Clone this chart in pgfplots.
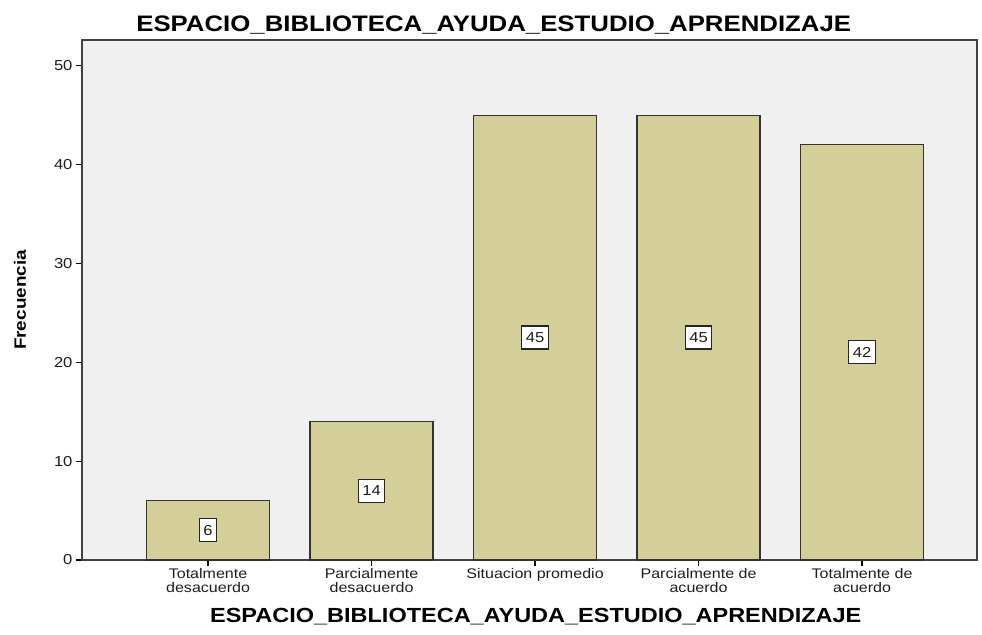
\documentclass[border=0pt]{standalone}
\usepackage{pgfplots}
\pgfplotsset{compat=1.18}
\usepackage{fontspec}
\setmainfont{Liberation Sans}[FakeStretch=1.15]
\definecolor{barfill}{RGB}{212,207,152}
\definecolor{bg}{RGB}{240,240,240}
\definecolor{txt}{RGB}{30,30,30}
\begin{document}
\begin{tikzpicture}
\path[use as bounding box] (-82bp,-75bp) rectangle (900bp,560bp);
\begin{axis}[
  scale only axis, width=895bp, height=520bp,
  xmin=-0.771, xmax=4.703, ymin=0, ymax=52.6,
  axis background/.style={fill=bg},
  axis line style={draw=black!75, line width=1.2bp},
  xtick={0,1,2,3,4},
  xticklabels={{Totalmente\\desacuerdo},{Parcialmente\\desacuerdo},{Situacion promedio},{Parcialmente de\\acuerdo},{Totalmente de\\acuerdo}},
  ytick={0,10,20,30,40,50},
  tick align=outside, xtick pos=bottom, ytick pos=left,
  major tick length=6bp,
  tick style={black, line width=1.2bp},
  x tick label style={align=center, font=\fontsize{14}{13.5}\selectfont, text=txt, yshift=1bp},
  y tick label style={font=\fontsize{14.5}{16}\selectfont, text=txt},
  /pgf/number format/assume math mode=true,
  xlabel={ESPACIO\_BIBLIOTECA\_AYUDA\_ESTUDIO\_APRENDIZAJE},
  xlabel style={at={(axis description cs:0.507,-0.120)}, anchor=base, font=\bfseries\fontsize{20.5}{24}\selectfont},
  ylabel={Frecuencia},
  ylabel style={at={(axis description cs:-0.0693,0.5)}, anchor=center, font=\bfseries\fontsize{16.5}{20}\selectfont},
  clip=false,
]
\addplot[ybar, bar width=0.752, fill=barfill, draw=black!80, line width=1.2bp]
  coordinates {(0,6) (1,14) (2,45) (3,45) (4,42)};
\addplot[draw=none, mark=none, nodes near coords, point meta=explicit,
  every node near coord/.append style={anchor=center, fill=white, draw=black!85, line width=1.2bp, inner xsep=4bp, inner ysep=0bp, minimum height=23bp, font=\fontsize{14.5}{16}\selectfont, text=txt}]
  coordinates {(0,3) [6] (1,7) [14] (2,22.5) [45] (3,22.5) [45] (4,21) [42]};
\node[anchor=base, font=\bfseries\fontsize{22.5}{26}\selectfont] at (axis description cs:0.46,1.0173) {ESPACIO\_BIBLIOTECA\_AYUDA\_ESTUDIO\_APRENDIZAJE};
\end{axis}
\end{tikzpicture}
\end{document}
